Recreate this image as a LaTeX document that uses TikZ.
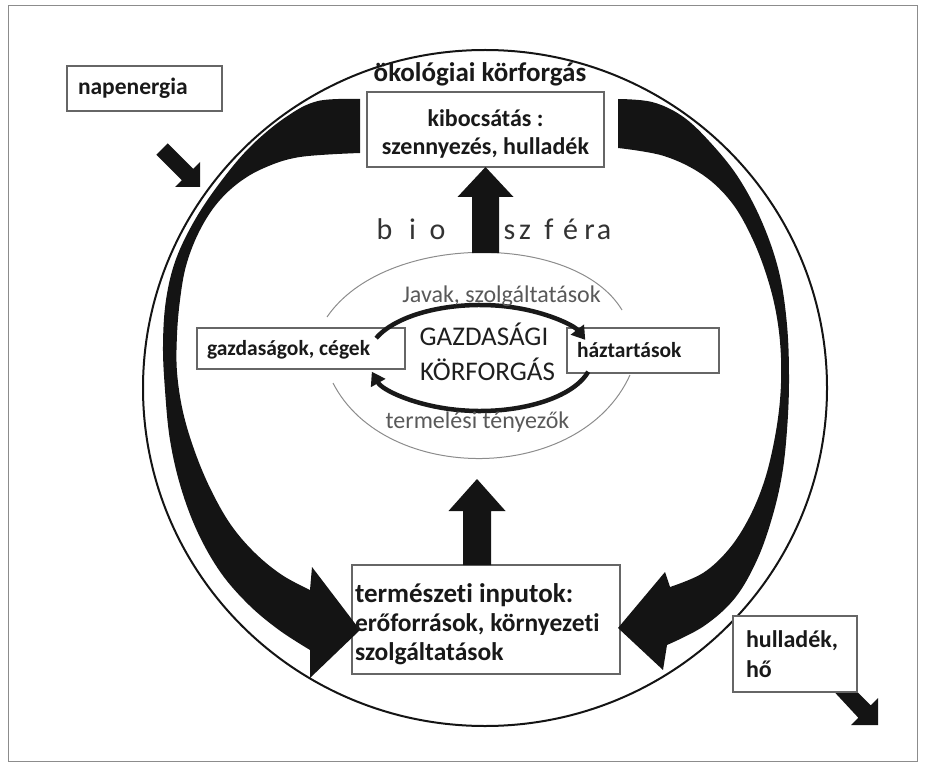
\documentclass[tikz,border=0pt]{standalone}
\usepackage{fontspec}
\setmainfont[Ligatures=NoCommon]{Carlito}
\usetikzlibrary{arrows.meta,calc}
\begin{document}
\begin{tikzpicture}[x=1pt,y=-1pt,
  box/.style={rectangle, draw=black!60, line width=1.1pt, fill=white, inner sep=0pt, outer sep=0pt},
  lbl/.style={inner sep=0pt, outer sep=0pt, text=black!90},
  bxfont/.style={font=\bfseries\fontsize{#1}{#1}\selectfont},
  rgfont/.style={font=\fontsize{#1}{#1}\selectfont},
  thin/.style={draw=black!45, line width=1pt},
  cyc/.style={line width=4.5pt, draw=black!90, -{Triangle[length=13pt,width=16pt]}},
  band/.style={fill=black!92}]
\useasboundingbox (0,0) rectangle (925,767);
% frame
\draw[black!45, line width=0.8pt] (8,5) rectangle (917,761);
% outer ellipse (ecological cycle)
\coordinate (eco) at (485,388);
\draw[line width=2pt, black!92] (eco) ellipse [x radius=342, y radius=338];
% thin arcs of the economic sphere
\coordinate (thintop) at (484,253);
\draw[thin] (327,317) .. controls (385,232) and (575,232) .. (622,310);
\draw[thin] (333,383) .. controls (385,485) and (580,485) .. (630,375);
% small arrows
\coordinate (sunT) at (200,187);
\fill[band] (sunT) -- +(0,-25) -- +(-6.8,-18.2) -- +(-32.3,-43.7) -- +(-43.7,-32.3) -- +(-18.2,-6.8) -- +(-25,0) -- cycle;
\coordinate (wasteT) at (878,725);
\fill[band] (wasteT) -- +(0,-27) -- +(-7.3,-19.7) -- +(-34.3,-46.7) -- +(-45.7,-35.3) -- +(-19.7,-7.3) -- +(-27,0) -- cycle;
% boxes
\node[box, minimum width=155, minimum height=45] (nap) at (144.5,88.5) {};
\node[box, minimum width=237, minimum height=75] (kib) at (485.5,129.5) {};
\node[box, minimum width=208, minimum height=41] (gaz) at (301,348.5) {};
\node[box, minimum width=152, minimum height=45] (haz) at (643,350.5) {};
\node[box, minimum width=268, minimum height=109] (inp) at (486,619.5) {};
\node[box, minimum width=124, minimum height=76] (hul) at (795,654) {};
% block arrows up
\fill[band] let \p1=(thintop), \p2=(kib.south) in
  (\x2-13.5pt,\y1) -- (\x2-13.5pt,\y2-30pt) -- (\x2-28pt,\y2-30pt) -- (\p2)
  -- (\x2+28pt,\y2-30pt) -- (\x2+13.5pt,\y2-30pt) -- (\x2+13.5pt,\y1) -- cycle;
\coordinate (inA) at ($(inp.north west)+(125,0)$);
\coordinate (econTip) at (477,479);
\fill[band] let \p1=(inA), \p2=(econTip) in
  (\x2-14pt,\y1) -- (\x2-14pt,\y2-32pt) -- (\x2-28.5pt,\y2-32pt) -- (\p2)
  -- (\x2+28.5pt,\y2-32pt) -- (\x2+14pt,\y2-32pt) -- (\x2+14pt,\y1) -- cycle;
% big curved arrows
\fill[band] plot[smooth, tension=0.6] coordinates {(360,99) (318,101) (286,117) (251,146) (222,180) (196,218) (176,259) (166,300) (163,345) (165,390) (170,440) (181,488) (198,533) (221,573) (249,605) (279,630) (310,650)}
  -- (310,678) -- (360,630) -- (312,567)
  -- plot[smooth, tension=0.6] coordinates {(310,590) (282,575) (255,553) (231,525) (211,490) (195,452) (183,412) (177,372) (177,335) (180,300) (186,266) (198,234) (215,206) (237,184) (264,168) (300,157) (360,153)} -- cycle;
\fill[band] plot[smooth, tension=0.6] coordinates {(618,99) (652,102) (682,116) (709,141) (738,177) (762,222) (779,272) (787,325) (789,380) (787,430) (782,475) (772,518) (757,560) (735,598) (704,626) (667,645)}
  -- (663,670) -- (618,628) -- (665,572)
  -- plot[smooth, tension=0.6] coordinates {(670,587) (703,573) (729,549) (749,518) (764,482) (774,442) (780,400) (781,358) (777,318) (768,280) (753,240) (732,203) (703,175) (664,156) (618,148)} -- cycle;
% economic cycle
\coordinate (cyc) at (480,358);
\draw[cyc] (cyc) ++(-158:112 and 53) arc[start angle=-158, end angle=-20, x radius=112, y radius=53];
\draw[cyc] (cyc) ++(15:112 and 53) arc[start angle=15, end angle=165, x radius=112, y radius=53];
% texts
\node[lbl, anchor=base, bxfont=27] (ecot) at (480,82) {ökológiai körforgás};
\node[lbl, anchor=base west, bxfont=23.5] (napt) at (78,95) {napenergia};
\node[lbl, anchor=base, bxfont=24] (kibt1) at (485.5,127) {kibocsátás :};
\node[lbl, anchor=base, bxfont=24] (kibt2) at (485.5,155) {szennyezés, hulladék};
\foreach \ch/\xx [count=\k] in {b/384.5, i/412.5, o/437.5, s/509.5, z/525, f/549, é/570.5, r/589.5, a/604}
  \node[lbl, anchor=base, rgfont=30, text=black!80] (bio\k) at (\xx,240) {\ch};
\node[lbl, anchor=base, rgfont=24, text=black!65] (javt) at (501.5,302) {Javak, szolgáltatások};
\node[lbl, anchor=base west, bxfont=21.5] (gazt) at (207,355) {gazdaságok, cégek};
\node[lbl, anchor=base west, bxfont=21.5] (hazt) at (577,357) {háztartások};
\node[lbl, anchor=base, rgfont=27, text=black!88] (gdt1) at (484,345) {GAZDASÁGI};
\node[lbl, anchor=base, rgfont=27, text=black!88] (gdt2) at (487.5,380) {KÖRFORGÁS};
\node[lbl, anchor=base, rgfont=24, text=black!65] (tert) at (477.5,428) {termelési tényezők};
\node[lbl, anchor=base west, bxfont=27] (inpt1) at (355,602) {természeti inputok:};
\node[lbl, anchor=base west, bxfont=25.5] (inpt2) at (355,631) {erőforrások, környezeti};
\node[lbl, anchor=base west, bxfont=25.5] (inpt3) at (355,660) {szolgáltatások};
\node[lbl, anchor=base west, bxfont=24] (hult1) at (746,647) {hulladék,};
\node[lbl, anchor=base west, bxfont=24] (hult2) at (746,677) {hő};
\end{tikzpicture}
\end{document}
